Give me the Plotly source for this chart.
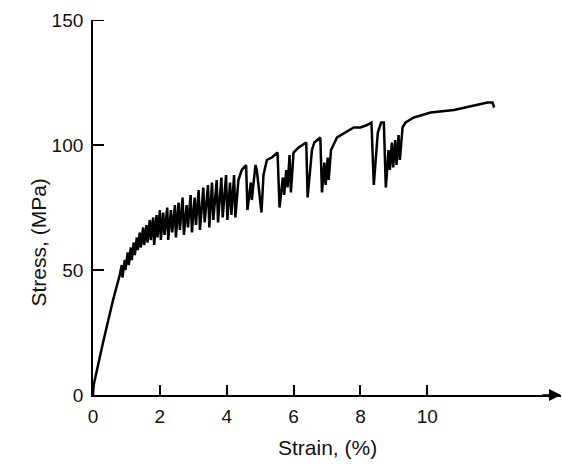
import plotly.graph_objects as go

# Stress-strain curve (serrated flow)
strain = [0.00, 0.02, 0.30, 0.60, 0.80,
          0.86, 0.88, 0.95, 0.97, 1.04, 1.07, 1.13, 1.16, 1.22, 1.25, 1.31, 1.34,
          1.40, 1.43, 1.50, 1.53, 1.60, 1.63, 1.70, 1.73, 1.80, 1.83, 1.90, 1.93,
          2.00, 2.03, 2.10, 2.14, 2.22, 2.25, 2.33, 2.37, 2.45, 2.48, 2.56, 2.60,
          2.68, 2.72, 2.80, 2.84, 2.92, 2.96, 3.04, 3.08, 3.16, 3.20, 3.30, 3.34,
          3.44, 3.48, 3.56, 3.60, 3.70, 3.74, 3.84, 3.88, 3.98, 4.02, 4.10, 4.14,
          4.22, 4.26,
          4.35, 4.45, 4.58, 4.62, 4.72, 4.75, 4.86, 4.90, 5.04,
          5.10, 5.20, 5.35, 5.52, 5.58, 5.68, 5.72, 5.78, 5.82, 5.88, 5.92,
          6.00, 6.15, 6.38, 6.42, 6.55, 6.62, 6.80, 6.85, 6.92, 6.96, 7.02, 7.05,
          7.12, 7.30, 7.55, 7.80, 8.00, 8.20, 8.33, 8.40, 8.52, 8.62, 8.70, 8.76,
          8.84, 8.88, 8.94, 8.98, 9.04, 9.08, 9.14, 9.18, 9.26, 9.35, 9.60,
          10.10, 10.80, 11.30, 11.80, 11.95, 12.00]
stress = [0, 4, 21, 38, 48,
          52, 47, 54, 50, 57, 52, 59, 54, 61, 56, 63, 58,
          65, 59, 67, 60, 68, 61, 70, 62, 71, 60, 72, 63,
          74, 62, 73, 64, 75, 62, 74, 65, 76, 63, 77, 66,
          79, 64, 76, 67, 80, 65, 79, 68, 82, 66, 83, 69,
          84, 67, 85, 70, 86, 69, 87, 71, 88, 70, 85, 72,
          88, 71,
          86, 90, 92, 74, 85, 78, 92, 90, 73,
          88, 94, 95, 97, 75, 87, 80, 90, 83, 96, 81,
          97, 99, 101, 79, 98, 101, 103, 81, 93, 84, 95, 86,
          98, 103, 105, 107, 107, 108, 109, 84, 105, 109, 109, 83,
          98, 90, 101, 91, 102, 92, 104, 94, 107, 109, 111,
          113, 114, 115.6, 117, 117, 115]

x_ticks = [0, 2, 4, 6, 8, 10]
y_ticks = [0, 50, 100, 150]
x_title = "Strain, (%)"
y_title = "Stress, (MPa)"

FONT = "Liberation Sans, Arial, sans-serif"

fig = go.Figure()
fig.add_trace(go.Scatter(x=strain, y=stress, mode="lines",
                         line=dict(color="black", width=2.5),
                         showlegend=False, hoverinfo="skip"))

fig.update_layout(
    width=562, height=464,
    margin=dict(l=93, r=1, t=20, b=69),
    paper_bgcolor="white", plot_bgcolor="white",
    font=dict(family=FONT, size=19, color="#111"),
)
fig.update_xaxes(range=[0, 14], tickvals=x_ticks, ticktext=[str(v) for v in x_ticks],
                 ticks="inside", ticklen=10, tickwidth=2, tickcolor="black",
                 showline=True, linecolor="black", linewidth=1.8,
                 showgrid=False, zeroline=False, automargin=False,
                 ticklabelstandoff=3)
fig.update_yaxes(range=[0, 150], tickvals=y_ticks,
                 ticks="", showline=True, linecolor="black", linewidth=1.8,
                 showgrid=False, zeroline=False, automargin=False,
                 ticklabelstandoff=4)

# inward tick marks on the stress axis
for v in y_ticks[1:]:
    fig.add_shape(type="line", xref="x", yref="y", xsizemode="pixel", xanchor=0,
                  x0=0, x1=11, y0=v, y1=v, line=dict(color="black", width=2))

# arrow at end of x axis
fig.add_annotation(x=14, y=0, xref="x", yref="y", ax=-20, ay=0,
                   axref="pixel", ayref="pixel", text="", showarrow=True,
                   arrowhead=2, arrowsize=1.6, arrowwidth=1.5, arrowcolor="black")
# axis titles
fig.add_annotation(x=0.5, y=-0.1413, xref="paper", yref="paper", text=x_title,
                   showarrow=False, xanchor="center", yanchor="middle",
                   font=dict(family=FONT, size=21, color="#111"))
fig.add_annotation(x=-0.1175, y=61, xref="paper", yref="y", text=y_title,
                   textangle=-90, showarrow=False, xanchor="center", yanchor="middle",
                   font=dict(family=FONT, size=21, color="#111"))

fig.write_html("out.html",
               config={"displayModeBar": False},
               post_script="document.body.style.margin='0';"
                           "document.body.style.overflow='hidden';")
